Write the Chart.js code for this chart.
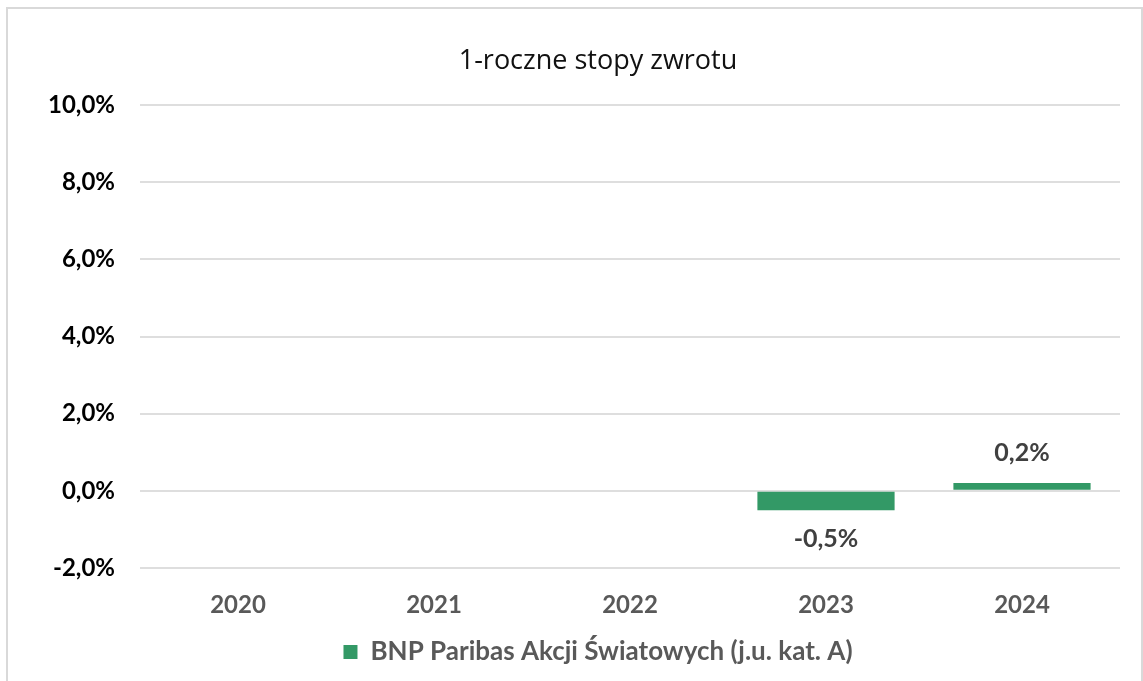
<!DOCTYPE html>
<html lang="pl">
<head>
  <meta charset="UTF-8" />
  <title>1-roczne stopy zwrotu</title>
  <script src="https://cdn.jsdelivr.net/npm/chart.js"></script>
  <style>
    html, body { margin: 0; padding: 0; background: #fff; }
    .frame {
      position: absolute; left: 6px; top: 7px; width: 1133px; height: 700px;
      border: 2px solid #d9d9d9; border-bottom: none;
    }
    .wrap { position: absolute; left: 0; top: 0; width: 1143px; height: 681px; }
  </style>
</head>
<body>
  <div class="frame"></div>
  <div class="wrap">
    <canvas id="chart" width="1143" height="681"></canvas>
  </div>

  <script>
    // data
    const years = ['2020', '2021', '2022', '2023', '2024'];
    const returns = [null, null, null, -0.5, 0.2];
    const seriesName = 'BNP Paribas Akcji Światowych (j.u. kat. A)';
    const yTicks = [-2, 0, 2, 4, 6, 8, 10];

    const fmt = v => v.toFixed(1).replace('.', ',') + '%';

    // value labels above / below the bars
    const barLabels = {
      id: 'barLabels',
      afterDatasetsDraw(chart) {
        const ctx = chart.ctx;
        const meta = chart.getDatasetMeta(0);
        ctx.save();
        ctx.font = 'bold 25px Lato';
        ctx.fillStyle = '#404040';
        ctx.textAlign = 'center';
        ctx.textBaseline = 'middle';
        meta.data.forEach((bar, i) => {
          const v = returns[i];
          if (v === null) return;
          const y = v >= 0 ? bar.y - 30 : bar.y + 29;
          ctx.fillText(fmt(v), bar.x, y);
        });
        ctx.restore();
      }
    };

    // the left padding only shifts title/legend; let y labels use that space
    const widenYLabels = {
      id: 'widenYLabels',
      afterLayout(chart) { chart.scales.y.left = 0; }
    };

    new Chart(document.getElementById('chart'), {
      type: 'bar',
      data: {
        labels: years,
        datasets: [{
          label: seriesName,
          data: returns,
          backgroundColor: '#339966',
          barPercentage: 0.7,
          categoryPercentage: 1
        }]
      },
      options: {
        responsive: false,
        animation: false,
        layout: { padding: { top: 37, right: 23, bottom: 6, left: 76 } },
        plugins: {
          title: {
            display: true,
            text: '1-roczne stopy zwrotu',
            color: '#111',
            font: { family: 'Open Sans', size: 27, weight: 'normal' },
            padding: { top: 8, bottom: 27.6 }
          },
          legend: {
            position: 'bottom',
            labels: {
              color: '#595959',
              font: { family: 'Lato', size: 26, weight: 'bold' },
              boxWidth: 14,
              boxHeight: 14,
              padding: 10
            }
          },
          tooltip: { enabled: false }
        },
        scales: {
          x: {
            grid: { display: false },
            border: { display: false },
            ticks: {
              color: '#595959',
              font: { family: 'Lato', size: 24, weight: 'bold' },
              padding: 15
            },
            afterFit(scale) { scale.height = 61; }
          },
          y: {
            min: -2,
            max: 10,
            afterBuildTicks(scale) { scale.ticks = yTicks.map(v => ({ value: v })); },
            grid: { color: '#dedede', lineWidth: 2, drawTicks: false },
            border: { display: false },
            ticks: {
              color: '#000',
              font: { family: 'Lato', size: 24, weight: 'bold' },
              padding: 25,
              callback: v => fmt(v)
            },
            afterFit(scale) { scale.width = 64; }
          }
        }
      },
      plugins: [barLabels, widenYLabels]
    });
  </script>
</body>
</html>
